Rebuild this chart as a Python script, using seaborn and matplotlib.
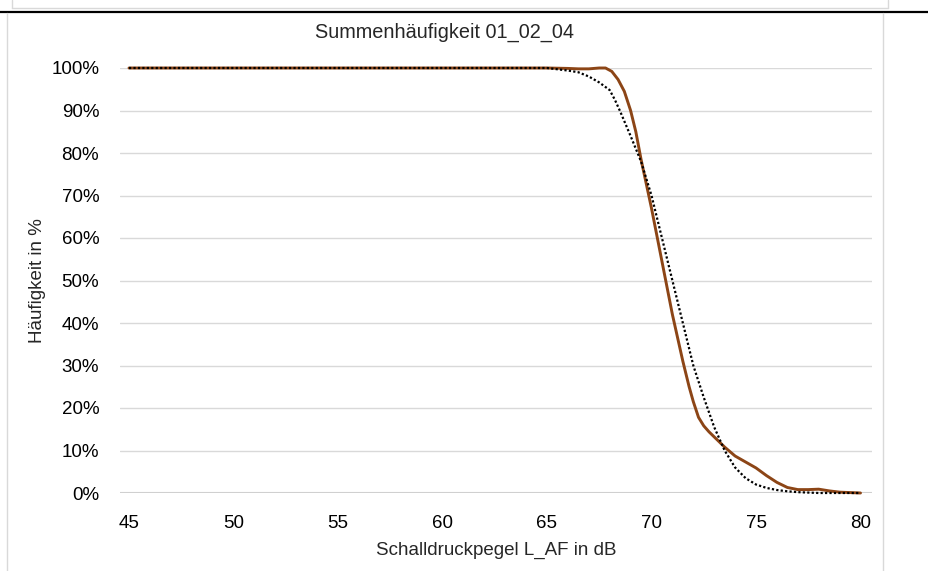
import numpy as np
import pandas as pd
import matplotlib
matplotlib.use("Agg")
import matplotlib.pyplot as plt
from matplotlib.lines import Line2D
from matplotlib.ticker import PercentFormatter
import seaborn as sns

# Schalldruckpegel in dB / Summenhäufigkeit in % (braune Linie)
pegel_1 = [45, 50, 55, 60, 65, 66, 66.5, 67, 67.5, 67.8, 68.1, 68.4, 68.7, 69,
           69.25, 69.5, 70, 70.5, 71, 71.5, 71.8, 72, 72.25, 72.5, 72.75, 73,
           73.5, 74, 74.5, 75, 75.5, 76, 76.5, 77, 77.5, 78, 78.5, 79, 79.5, 80]
haeufigkeit_1 = [100, 100, 100, 100, 100, 99.9, 99.8, 99.8, 100, 100, 99.2,
                 97.3, 94.5, 90, 85, 78.5, 67, 54.5, 42, 31, 25, 21.5, 17.8,
                 15.8, 14.4, 13.2, 10.8, 8.7, 7.3, 5.9, 4.1, 2.5, 1.3, 0.8, 0.8,
                 0.9, 0.5, 0.2, 0.1, 0]

# Schalldruckpegel in dB / Summenhäufigkeit in % (gepunktete Linie)
pegel_2 = [45, 50, 55, 60, 65, 65.5, 66, 66.5, 67, 67.5, 68, 68.25, 68.5, 69,
           69.5, 70, 70.5, 71, 71.5, 72, 72.5, 73, 73.5, 74, 74.5, 75, 75.5, 76,
           76.5, 77, 77.5, 78, 79, 80]
haeufigkeit_2 = [100, 100, 100, 100, 100, 99.7, 99.4, 99, 98, 96.6, 94.8, 92.5,
                 89.8, 84, 78, 70, 60, 50, 40, 30, 22.5, 15.5, 10, 6, 3.5, 2,
                 1.2, 0.7, 0.4, 0.2, 0.1, 0, 0, 0]

df1 = pd.DataFrame({"pegel": pegel_1, "wert": haeufigkeit_1})
df2 = pd.DataFrame({"pegel": pegel_2, "wert": haeufigkeit_2})

sns.set_theme(style="white")
plt.rcParams['font.family'] = ['Liberation Sans', 'DejaVu Sans']

W, H = 929, 571
fig = plt.figure(figsize=(W / 100, H / 100), dpi=100)
ax = fig.add_axes([120 / W, 1 - 493 / H, (872 - 120) / W, (493 - 68) / H])

sns.lineplot(data=df1, x="pegel", y="wert", ax=ax, color="#8C4516", lw=2.1,
             clip_on=False, zorder=3)
sns.lineplot(data=df2, x="pegel", y="wert", ax=ax, color="black", lw=1.6,
             linestyle=(0, (1, 1)), clip_on=False, zorder=4)

ax.set_xlim(44.57, 80.55)
ax.set_ylim(0, 100)
ax.set_xticks([45, 50, 55, 60, 65, 70, 75, 80])
ax.set_yticks(range(0, 101, 10))
ax.yaxis.set_major_formatter(PercentFormatter(xmax=100, decimals=0))

ax.grid(axis="y", color="#D9D9D9", lw=1.0)
ax.grid(axis="x", visible=False)
ax.axhline(0, color="#D0D0D0", lw=1.5, zorder=1)
for s in ax.spines.values():
    s.set_visible(False)

ax.tick_params(axis="both", length=0, labelsize=13.5, labelcolor="black")
ax.tick_params(axis="y", pad=15)
ax.tick_params(axis="x", pad=16)

ax.set_xlabel("Schalldruckpegel L_AF in dB", fontsize=13.5, va="center")
ax.set_ylabel("Häufigkeit in %", fontsize=13.5, va="center")
ax.xaxis.set_label_coords(0.5, (493 - 550) / 425)
ax.yaxis.set_label_coords((38 - 120) / 752, 0.5)

fig.text(445 / W, 1 - 32 / H, "Summenhäufigkeit 01_02_04", fontsize=14.3,
         ha="center", va="center")

# Rahmen (oberes Diagramm, Trennlinie, Diagrammbereich)
grau = "#D9D9D9"
def linie(x0, y0, x1, y1, color, lw):
    fig.add_artist(Line2D([x0 / W, x1 / W], [1 - y0 / H, 1 - y1 / H],
                          transform=fig.transFigure, color=color, lw=lw))

linie(12.5, 0, 12.5, 8, grau, 1.0)
linie(888, 0, 888, 8, grau, 1.0)
linie(12.5, 8, 888, 8, grau, 1.0)
linie(0, 11.5, W, 11.5, "black", 1.6)
linie(7, 12.5, 7, H, grau, 1.0)
linie(883, 12.5, 883, H, grau, 1.0)

fig.savefig("out.png", dpi=100)
